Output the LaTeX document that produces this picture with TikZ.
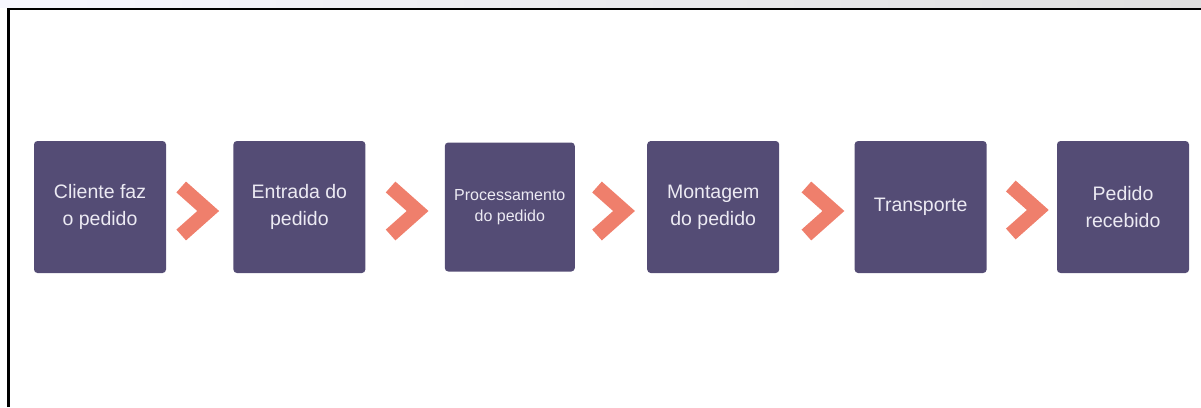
\documentclass[tikz,border=0pt]{standalone}
\usepackage{fontspec}
\setmainfont{Liberation Sans}
\usepackage{xcolor}
\usetikzlibrary{positioning, calc}
\definecolor{stepviolet}{HTML}{544C75}
\definecolor{steptext}{HTML}{ECEAF3}
\definecolor{arrowsalmon}{HTML}{EF7F6C}

\begin{document}
\begin{tikzpicture}[
      x=1pt, y=-1pt,
      node distance=67pt,
      box/.style={fill=stepviolet, rounded corners=3.5pt, minimum width=132pt, minimum height=132pt, inner sep=0pt, align=center, text=steptext, font=\fontsize{19.5}{27}\selectfont},
      chevron/.style={draw=arrowsalmon, line width=14.5pt, line join=miter, line cap=butt}
    ]
      \useasboundingbox (0,0) rectangle (1201,407);
      % frame of the screenshot
      \shade[left color=blue!3, right color=black!13] (0,0) rectangle (1201,7.5);
      \draw[line width=2.2pt] (8.5,407) -- (8.5,9) -- (1201,9);
      % steps
      \node[box] (cliente) at (100,207) {Cliente faz\\o pedido};
      \node[box, right=of cliente] (entrada) {Entrada do\\pedido};
      \node[box, right=79pt of entrada, minimum width=130pt, minimum height=129pt, font=\fontsize{16}{21}\selectfont] (processo) {Processamento\\do pedido};
      \node[box, right=72pt of processo] (montagem) {Montagem\\do pedido};
      \node[box, right=75pt of montagem] (transporte) {Transporte};
      \node[box, right=70pt of transporte] (recebido) {Pedido\\recebido};
      % chevrons between steps
      \draw[chevron] ($(cliente.east)!0.5!(entrada.west)$) ++(-18.5,-20) -- ++(27,24) -- ++(-27,24);
      \draw[chevron] ($(entrada.east)!0.5!(processo.west)$) ++(-14.5,-20) -- ++(27,24) -- ++(-27,24);
      \draw[chevron] ($(processo.east)!0.5!(montagem.west)$) ++(-14,-20) -- ++(27,24) -- ++(-27,24);
      \draw[chevron] ($(montagem.east)!0.5!(transporte.west)$) ++(-10.5,-20) -- ++(27,24) -- ++(-27,24);
      \draw[chevron] ($(transporte.east)!0.5!(recebido.west)$) ++(-11,-21) -- ++(27,24) -- ++(-27,24);
    \end{tikzpicture}
\end{document}
